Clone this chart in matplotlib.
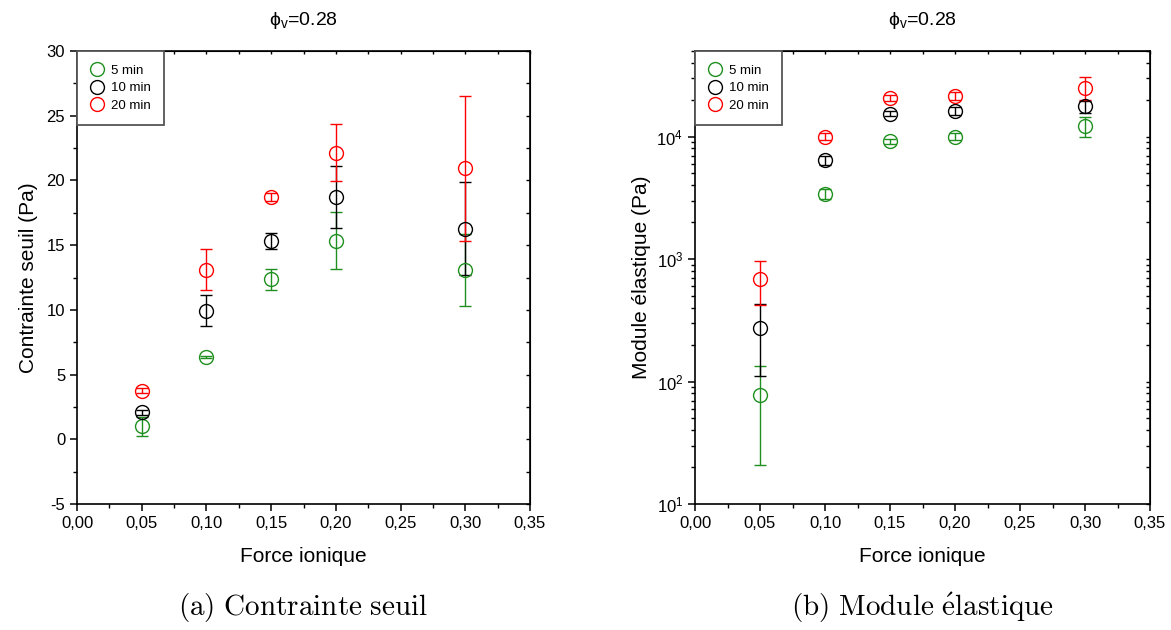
import math
import matplotlib
matplotlib.use("Agg")
import matplotlib.pyplot as plt
from matplotlib.lines import Line2D
from matplotlib.ticker import MultipleLocator, FuncFormatter, LogLocator, NullFormatter

plt.rcParams['font.family'] = ['Liberation Sans', 'DejaVu Sans']
plt.rcParams['axes.unicode_minus'] = False

# data
force = [0.05, 0.10, 0.15, 0.20, 0.30]
labels = ['5 min', '10 min', '20 min']
colors = ['#1f8f1f', 'black', 'red']

# (a) contrainte seuil (Pa), symmetric errors
seuil_5 = [1.0, 6.35, 12.35, 15.33, 13.08]
seuil_5_err = [0.75, 0.1, 0.8, 2.2, 2.8]
seuil_10 = [2.1, 9.95, 15.33, 18.73, 16.27]
seuil_10_err = [0.2, 1.2, 0.6, 2.4, 3.6]
seuil_20 = [3.75, 13.1, 18.73, 22.13, 20.94]
seuil_20_err = [0.2, 1.6, 0.3, 2.2, 5.6]

# (b) module elastique (Pa), lower / upper bounds of error bars
mod_5 = [78, 3380, 9150, 10000, 12300]
mod_5_lo = [21, 3100, 8700, 9300, 10000]
mod_5_hi = [135, 3700, 9600, 10800, 14500]
mod_10 = [273, 6400, 15400, 16100, 17700]
mod_10_lo = [110, 5900, 14700, 14900, 15700]
mod_10_hi = [430, 6900, 16100, 17400, 19600]
mod_20 = [690, 10000, 20700, 21400, 25100]
mod_20_lo = [423, 9300, 19500, 19900, 19900]
mod_20_hi = [970, 10800, 22000, 23000, 30900]

fig = plt.figure(figsize=(11.71, 6.30), dpi=100)
ax1 = fig.add_axes([77 / 1171, 126 / 630, 453 / 1171, 453 / 630])
ax2 = fig.add_axes([695 / 1171, 126 / 630, 455 / 1171, 453 / 630])

marker_kw = dict(fmt='o', markersize=10, markerfacecolor='none', markeredgewidth=1.0,
                 elinewidth=1.0, capsize=4.5, capthick=1.0)

for y, e, c in zip([seuil_5, seuil_10, seuil_20],
                   [seuil_5_err, seuil_10_err, seuil_20_err], colors):
    ax1.errorbar(force, y, yerr=e, color=c, markeredgecolor=c, **marker_kw)

for y, lo, hi, c in zip([mod_5, mod_10, mod_20], [mod_5_lo, mod_10_lo, mod_20_lo],
                        [mod_5_hi, mod_10_hi, mod_20_hi], colors):
    err = [[a - b for a, b in zip(y, lo)], [b - a for a, b in zip(y, hi)]]
    ax2.errorbar(force, y, yerr=err, color=c, markeredgecolor=c, **marker_kw)

comma = FuncFormatter(lambda v, p: f"{v:.2f}".replace('.', ','))
pow10 = FuncFormatter(lambda v, p: r'$\mathregular{10^{%d}}$' % round(math.log10(v)))

ax1.set_ylim(-5, 30)
ax1.yaxis.set_major_locator(MultipleLocator(5))
ax1.yaxis.set_minor_locator(MultipleLocator(2.5))
ax1.set_ylabel('Contrainte seuil (Pa)', fontsize=15, labelpad=6)

ax2.set_yscale('log')
ax2.set_ylim(10, 5e4)
ax2.yaxis.set_major_locator(LogLocator(base=10, numticks=10))
ax2.yaxis.set_major_formatter(pow10)
ax2.yaxis.set_minor_locator(LogLocator(base=10, subs=range(2, 10), numticks=20))
ax2.yaxis.set_minor_formatter(NullFormatter())
ax2.set_ylabel('Module élastique (Pa)', fontsize=15, labelpad=4)

handles = [Line2D([], [], ls='none', marker='o', markersize=10, markerfacecolor='none',
                  markeredgecolor=c, markeredgewidth=1.0) for c in colors]

for ax in (ax1, ax2):
    ax.set_xlim(0, 0.35)
    ax.xaxis.set_major_locator(MultipleLocator(0.05))
    ax.xaxis.set_minor_locator(MultipleLocator(0.025))
    ax.xaxis.set_major_formatter(comma)
    ax.set_xlabel('Force ionique', fontsize=15, labelpad=12)
    for s in ax.spines.values():
        s.set_linewidth(1.2)
    ax.tick_params(which='major', direction='out', length=5, width=1.1, labelsize=12)
    ax.tick_params(which='minor', direction='out', length=3, width=1.0)

    # inward ticks on top and right, like the original software
    top = ax.secondary_xaxis('top')
    top.set_xticks(ax.get_xticks())
    top.xaxis.set_minor_locator(MultipleLocator(0.025))
    top.tick_params(which='both', direction='in', length=2, width=1.0, labeltop=False)
    right = ax.secondary_yaxis('right')
    if ax is ax1:
        right.yaxis.set_major_locator(MultipleLocator(5))
        right.yaxis.set_minor_locator(MultipleLocator(2.5))
    else:
        right.yaxis.set_major_locator(LogLocator(base=10, numticks=10))
        right.yaxis.set_minor_locator(LogLocator(base=10, subs=range(2, 10), numticks=20))
    right.tick_params(which='both', direction='in', length=3, width=1.0, labelright=False)

    leg = ax.legend(handles, labels, loc='upper left', bbox_to_anchor=(0, 1), borderaxespad=0,
                    fontsize=9.5, handletextpad=0.5, labelspacing=0.38, borderpad=1.05,
                    handlelength=1.0, fancybox=False, framealpha=1)
    leg.get_frame().set_edgecolor('#555555')
    leg.get_frame().set_linewidth(1.3)

    ax.text(0.5, 1.045, r'$\mathregular{ϕ_v}$=0.28', transform=ax.transAxes,
            ha='center', va='bottom', fontsize=14)

fig.text((77 + 530) / 2 / 1171, 1 - 608 / 630, r'$\mathrm{(a)\ Contrainte\ seuil}$',
         ha='center', va='center', fontsize=21, math_fontfamily='cm')
fig.text((695 + 1150) / 2 / 1171, 1 - 608 / 630, r'$\mathrm{(b)\ Module\ \acute{e}lastique}$',
         ha='center', va='center', fontsize=21, math_fontfamily='cm')

fig.savefig('out.png', dpi=100)
